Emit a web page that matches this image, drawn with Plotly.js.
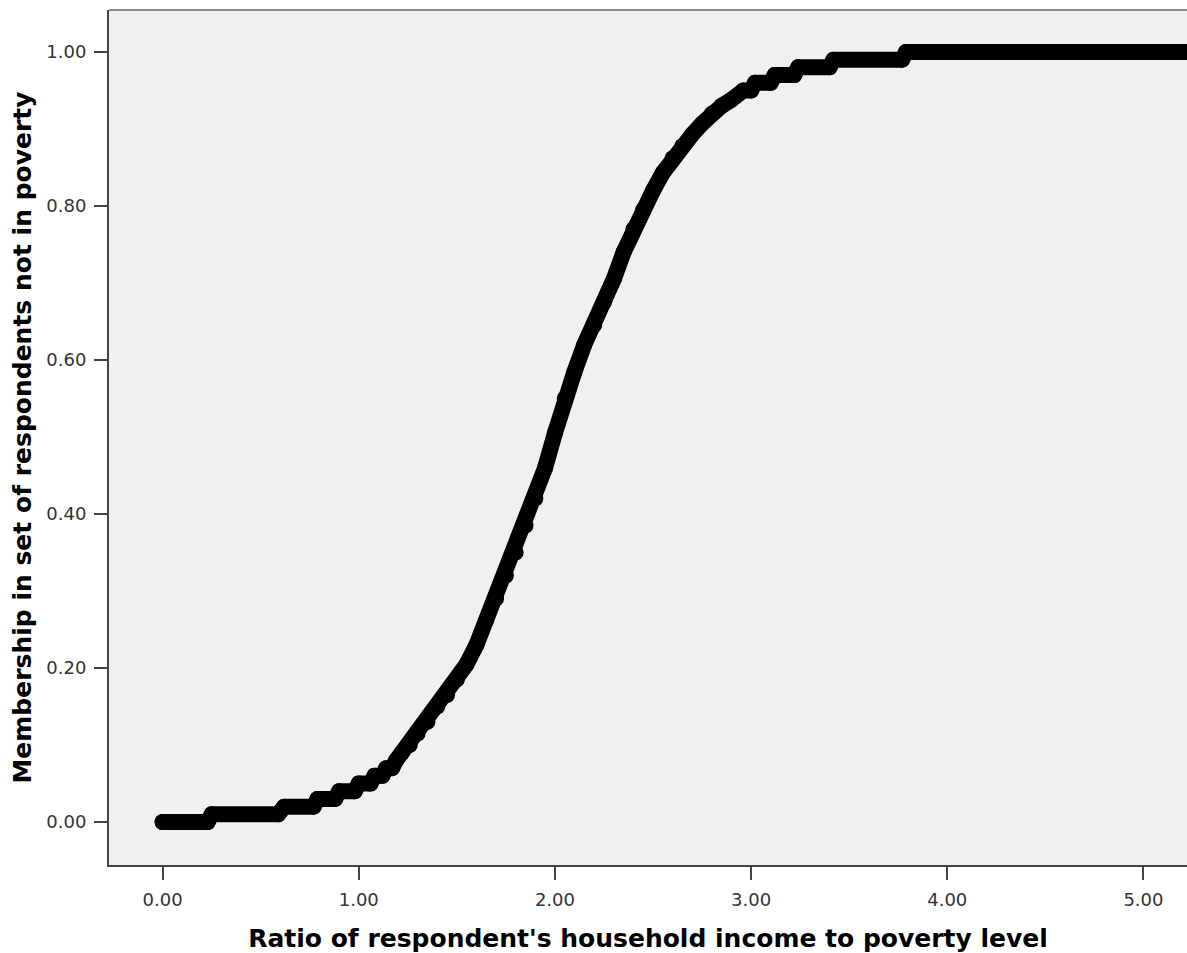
<!DOCTYPE html>
<html>
<head>
<meta charset="utf-8">
<script src="https://cdn.plot.ly/plotly-3.0.1.min.js"></script>
<style>
  html, body { margin: 0; padding: 0; background: #ffffff; overflow: hidden; }
  #chart { width: 1187px; height: 953px; }
  .scatterlayer .js-line { stroke-linejoin: round; stroke-linecap: round; }
</style>
</head>
<body>
<div id="chart"></div>
<script>
// Ratio of household income to poverty level (x) and membership score (y)
const incomeRatio = [
  0.00, 0.23,
  0.25, 0.59,
  0.62, 0.77,
  0.79, 0.88,
  0.90, 0.98,
  1.00, 1.06,
  1.08, 1.12,
  1.14, 1.17,
  1.19, 1.22, 1.26, 1.30, 1.35, 1.40, 1.45, 1.50, 1.55, 1.60, 1.65,
  1.70, 1.75, 1.80, 1.85, 1.90, 1.95, 2.00, 2.05, 2.10, 2.15,
  2.20, 2.25, 2.30, 2.35, 2.40, 2.45, 2.50, 2.55, 2.60, 2.65,
  2.70, 2.75, 2.80, 2.85, 2.90,
  2.96, 3.00,
  3.02, 3.10,
  3.12, 3.22,
  3.24, 3.40,
  3.42, 3.77,
  3.79, 5.35
];
const membership = [
  0.00, 0.00,
  0.01, 0.01,
  0.02, 0.02,
  0.03, 0.03,
  0.04, 0.04,
  0.05, 0.05,
  0.06, 0.06,
  0.07, 0.07,
  0.08, 0.09, 0.10, 0.115, 0.13, 0.15, 0.165, 0.185, 0.205, 0.23, 0.262,
  0.29, 0.32, 0.35, 0.385, 0.42, 0.46, 0.505, 0.55, 0.585, 0.62,
  0.645, 0.675, 0.705, 0.74, 0.77, 0.795, 0.82, 0.843, 0.862, 0.878,
  0.893, 0.907, 0.92, 0.93, 0.938,
  0.95, 0.95,
  0.96, 0.96,
  0.97, 0.97,
  0.98, 0.98,
  0.99, 0.99,
  1.00, 1.00
];
const xTickVals = [0, 1, 2, 3, 4, 5];
const yTickVals = [0, 0.2, 0.4, 0.6, 0.8, 1.0];

const trace = {
  type: 'scatter',
  mode: 'lines+markers',
  x: incomeRatio,
  y: membership,
  line: { color: '#000000', width: 16 },
  marker: { color: '#000000', size: 16, symbol: 'circle', line: { width: 0 } },
  hoverinfo: 'x+y'
};

const tickFont = { family: 'DejaVu Sans, Verdana, sans-serif', size: 18, color: '#333333' };
const titleFont = { family: 'DejaVu Sans, Verdana, sans-serif', size: 25, color: '#000000', weight: 'bold' };

const layout = {
  width: 1187,
  height: 953,
  margin: { l: 109, r: 0, t: 10, b: 88, pad: 0 },
  paper_bgcolor: '#ffffff',
  plot_bgcolor: '#f0f0f0',
  showlegend: false,
  xaxis: {
    range: [-0.273, 5.222],
    tickvals: xTickVals,
    tickformat: '.2f',
    ticks: 'outside',
    ticklen: 13,
    tickwidth: 2,
    tickcolor: '#444444',
    ticklabelstandoff: 4,
    showline: true,
    linecolor: '#444444',
    linewidth: 2,
    showgrid: false,
    zeroline: false,
    tickfont: tickFont,
    title: { text: "Ratio of respondent's household income to poverty level", font: titleFont, standoff: 21 }
  },
  yaxis: {
    range: [-0.0558, 1.0545],
    tickvals: yTickVals,
    tickformat: '.2f',
    ticks: 'outside',
    ticklen: 13,
    tickwidth: 2,
    tickcolor: '#444444',
    ticklabelstandoff: 4,
    showline: true,
    linecolor: '#444444',
    linewidth: 2,
    showgrid: false,
    zeroline: false,
    tickfont: tickFont,
    title: { text: 'Membership in set of respondents not in poverty', font: titleFont, standoff: 8 }
  },
  shapes: [
    { type: 'line', xref: 'paper', yref: 'paper', x0: 0, x1: 1, y0: 1, y1: 1,
      line: { color: '#8c8c8c', width: 2 } }
  ]
};

Plotly.newPlot('chart', [trace], layout, { displayModeBar: false, staticPlot: true });
</script>
</body>
</html>
